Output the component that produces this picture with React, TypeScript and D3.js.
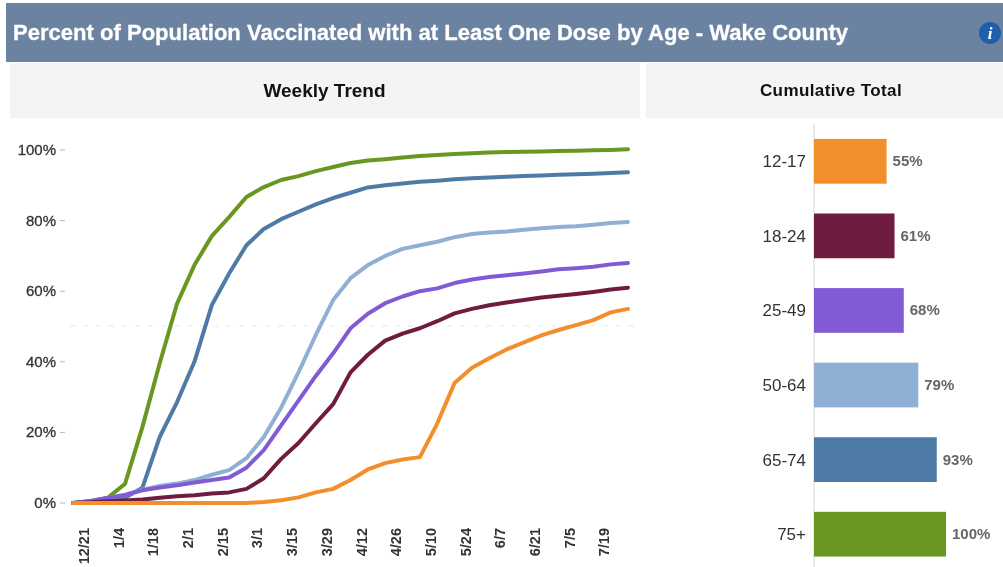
import React from "react";
import * as d3 from "d3";

const title = "Percent of Population Vaccinated with at Least One Dose by Age - Wake County";
const tickLabels = ["12/21","1/4","1/18","2/1","2/15","3/1","3/15","3/29","4/12","4/26","5/10","5/24","6/7","6/21","7/5","7/19"];
const yTicks = [0, 20, 40, 60, 80, 100];
const ageGroups = ["12-17","18-24","25-49","50-64","65-74","75+"];
const cumulative = [55, 61, 68, 79, 93, 100];
const colors = ["#f28e2b","#6f1c40","#815bd6","#8fb0d4","#4e7ba6","#6a971f"];

const age75 = [0,0.5,1.5,5.4,21.5,39.6,56.5,67.4,75.6,81,86.7,89.5,91.5,92.6,94,95.2,96.3,97,97.4,97.9,98.3,98.6,98.9,99.1,99.3,99.4,99.5,99.6,99.7,99.8,99.9,100,100.2];
const age65 = [0,0.3,0.8,1.5,4.3,18.7,28.6,40,56,65,73,77.6,80.4,82.5,84.6,86.4,87.9,89.4,90,90.5,91,91.3,91.7,92,92.2,92.4,92.6,92.8,93,93.1,93.3,93.5,93.7];
const age50 = [0,0.5,1.4,2.3,3.8,4.8,5.5,6.5,8,9.3,12.7,18.7,27,37,47.6,57.5,63.7,67.4,70,72,73,74,75.3,76.2,76.6,76.9,77.4,77.8,78.2,78.4,78.8,79.3,79.6];
const age25 = [0,0.6,1.4,2.3,3.6,4.4,5,5.8,6.5,7.2,10,15,22,29,36,42.4,49.5,53.6,56.6,58.5,60,60.8,62.3,63.3,64,64.5,65,65.6,66.2,66.5,66.9,67.6,68];
const age18 = [0,0.2,0.5,0.7,1,1.5,1.9,2.2,2.7,3,4,7,12.5,17,22.6,28,37,42,46,48,49.5,51.5,53.7,55,56,56.8,57.5,58.2,58.7,59.2,59.8,60.5,61];
const age12 = [0,0,0,0,0,0,0,0,0,0,0,0.3,0.8,1.6,3,4,6.5,9.5,11.3,12.3,13,22.5,34,38.3,41,43.5,45.5,47.5,49,50.4,51.8,54,55];
const seriesValues = [age75, age65, age50, age25, age18, age12];
const seriesColors = [colors[5], colors[4], colors[3], colors[2], colors[1], colors[0]];

const FONT = "'Liberation Sans', Arial, sans-serif";

export default function App() {
  const x = d3.scaleLinear().domain([0, 32]).range([73, 628]);
  const y = d3.scaleLinear().domain([0, 100]).range([503, 150]);
  const line = d3.line<number>().x((_, i) => x(i)).y((d) => y(d));
  const bx = d3.scaleLinear().domain([0, 100]).range([814, 946]);
  const by = d3.scaleBand<string>().domain(ageGroups).range([124, 571.5]).paddingInner(0.4).paddingOuter(0.2);

  return (
    <svg width={1003} height={567} style={{ position: "absolute", left: 0, top: 0, filter: "blur(0.5px)" }} fontFamily={FONT}>
      <rect width={1003} height={567} fill="#fff" />
      <rect x={6} y={3} width={997} height={59} fill="#6b83a0" />
      <text x={13} y={40} fontSize={22.05} fontWeight="bold" fill="#fff" stroke="#fff" strokeWidth={0.3}>{title}</text>
      <circle cx={990} cy={33} r={11} fill="#1d5fa8" />
      <text x={990} y={39} fontSize={17} fontWeight="bold" fontStyle="italic" fill="#fff" textAnchor="middle" fontFamily="'Liberation Serif', serif">i</text>
      <rect x={10} y={63} width={630} height={55} fill="#f3f4f4" />
      <rect x={646} y={63} width={357} height={55} fill="#f3f4f4" />
      <text x={324.5} y={97} fontSize={19} fontWeight="bold" fill="#111" textAnchor="middle">Weekly Trend</text>
      <text x={831} y={96} fontSize={17} fontWeight="bold" fill="#111" textAnchor="middle" letterSpacing={0.4}>Cumulative Total</text>

      <line x1={70} x2={640} y1={326} y2={326} stroke="#e6e6e6" strokeDasharray="5 8" />
      {yTicks.map((t) => (
        <g key={t}>
          <line x1={60} x2={65} y1={y(t)} y2={y(t)} stroke="#bbb" />
          <text x={56} y={y(t) + 5} fontSize={15} fill="#333" stroke="#333" strokeWidth={0.3} textAnchor="end">{t}%</text>
        </g>
      ))}
      {tickLabels.map((t, i) => (
        <text key={t} transform={`translate(${x(i * 2) + 16},528) rotate(-90)`} fontSize={14.5} fontWeight="bold" fill="#333" textAnchor="end">{t}</text>
      ))}
      {seriesValues.map((s, i) => (
        <path key={i} d={line(s) ?? ""} fill="none" stroke={seriesColors[i]} strokeWidth={4} strokeLinejoin="round" strokeLinecap="round" />
      ))}

      <line x1={814} x2={814} y1={124} y2={567} stroke="#d5d5d5" />
      {ageGroups.map((g, i) => (
        <g key={g}>
          <rect x={bx(0)} y={by(g)} width={bx(cumulative[i]) - bx(0)} height={by.bandwidth()} fill={colors[i]} />
          <text x={806} y={(by(g) as number) + by.bandwidth() / 2 + 6} fontSize={17} fill="#333" textAnchor="end">{g}</text>
          <text x={bx(cumulative[i]) + 6} y={(by(g) as number) + by.bandwidth() / 2 + 5} fontSize={15} fontWeight="bold" fill="#666">{cumulative[i]}%</text>
        </g>
      ))}
    </svg>
  );
}
